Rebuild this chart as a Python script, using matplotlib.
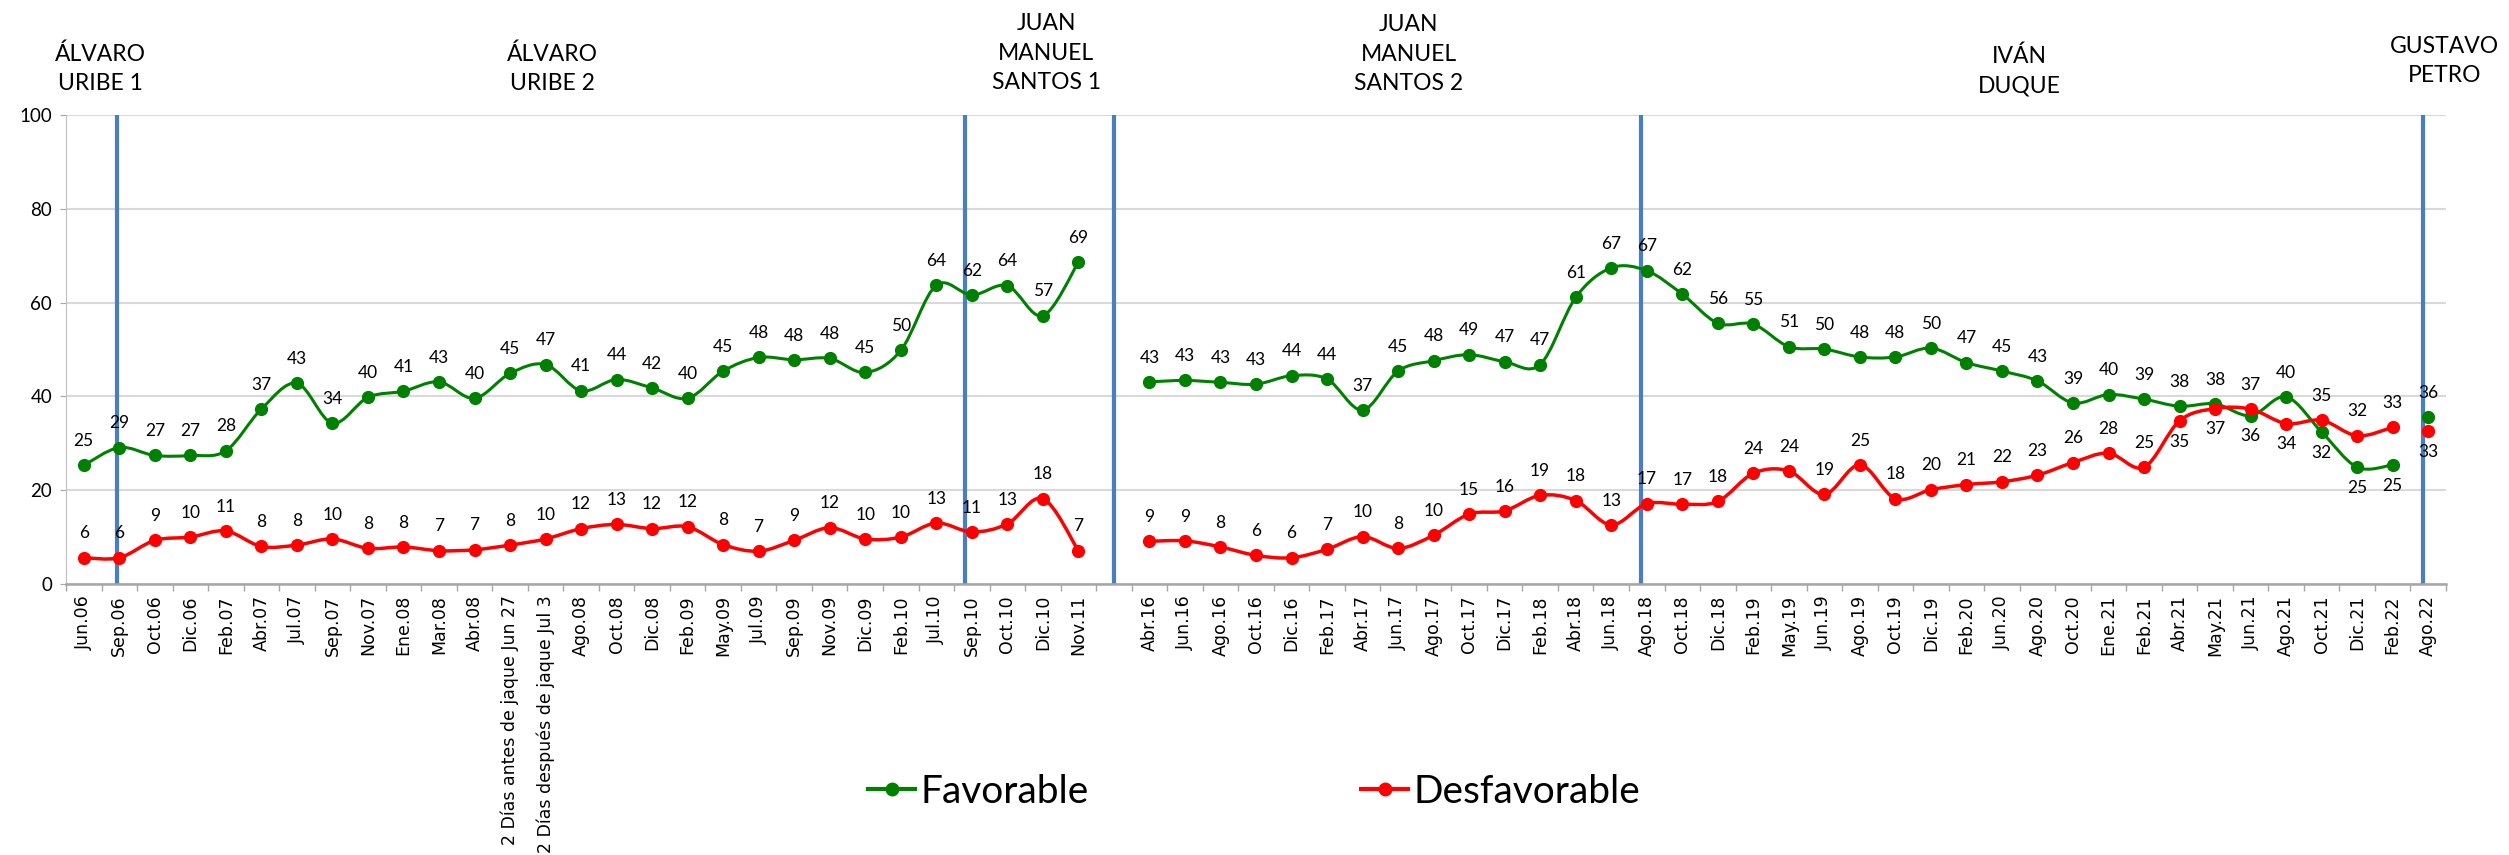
import numpy as np
import matplotlib.pyplot as plt
from matplotlib.path import Path
from matplotlib.patches import PathPatch
from matplotlib.lines import Line2D
from matplotlib.transforms import blended_transform_factory

LABEL_FONT = ['Lato', 'DejaVu Sans']

CATEGORIES = [
    'Jun.06', 'Sep.06', 'Oct.06', 'Dic.06', 'Feb.07', 'Abr.07', 'Jul.07', 'Sep.07',
    'Nov.07', 'Ene.08', 'Mar.08', 'Abr.08', '2 Días antes de jaque Jun 27',
    '2 Días después de jaque Jul 3', 'Ago.08', 'Oct.08', 'Dic.08', 'Feb.09', 'May.09',
    'Jul.09', 'Sep.09', 'Nov.09', 'Dic.09', 'Feb.10', 'Jul.10', 'Sep.10', 'Oct.10',
    'Dic.10', 'Nov.11', '',
    'Abr.16', 'Jun.16', 'Ago.16', 'Oct.16', 'Dic.16', 'Feb.17', 'Abr.17', 'Jun.17',
    'Ago.17', 'Oct.17', 'Dic.17', 'Feb.18', 'Abr.18', 'Jun.18', 'Ago.18', 'Oct.18',
    'Dic.18', 'Feb.19', 'May.19', 'Jun.19', 'Ago.19', 'Oct.19', 'Dic.19', 'Feb.20',
    'Jun.20', 'Ago.20', 'Oct.20', 'Ene.21', 'Feb.21', 'Abr.21', 'May.21', 'Jun.21',
    'Ago.21', 'Oct.21', 'Dic.21', 'Feb.22', 'Ago.22',
]

FAVORABLE = [
    25.3, 29.1, 27.4, 27.4, 28.4, 37.3, 42.8, 34.3, 39.8, 41.1, 43.1, 39.6, 44.9,
    46.8, 41.2, 43.6, 41.8, 39.6, 45.4, 48.3, 47.8, 48.1, 45.1, 49.8, 63.7, 61.6,
    63.6, 57.2, 68.6, np.nan,
    43.1, 43.4, 43.0, 42.6, 44.4, 43.7, 37.1, 45.4, 47.6, 48.9, 47.4, 46.8, 61.1,
    67.4, 66.8, 61.8, 55.6, 55.4, 50.6, 50.1, 48.4, 48.4, 50.3, 47.2, 45.4, 43.3,
    38.6, 40.4, 39.4, 37.9, 38.4, 35.9, 39.9, 32.4, 24.9, 25.4, 35.6,
]

DESFAVORABLE = [
    5.6, 5.6, 9.3, 10.0, 11.3, 8.0, 8.3, 9.6, 7.6, 7.9, 7.1, 7.3, 8.3, 9.6, 11.8,
    12.7, 11.8, 12.2, 8.4, 7.0, 9.3, 12.0, 9.6, 10.0, 13.0, 11.1, 12.8, 18.2, 7.1,
    np.nan,
    9.1, 9.2, 7.9, 6.1, 5.6, 7.4, 10.1, 7.6, 10.4, 14.9, 15.6, 18.9, 17.8, 12.6,
    17.1, 17.0, 17.6, 23.6, 24.1, 19.1, 25.4, 18.2, 20.1, 21.2, 21.8, 23.2, 25.9,
    27.9, 24.9, 34.8, 37.4, 37.3, 34.2, 34.9, 31.6, 33.4, 32.6,
]

# labels drawn under the point instead of above
FAV_BELOW = ['Jun.21', 'Oct.21', 'Dic.21', 'Feb.22']
DESF_BELOW = ['Abr.21', 'May.21', 'Ago.21', 'Ago.22']

PERIODS = ['ÁLVARO\nURIBE 1', 'ÁLVARO\nURIBE 2', 'JUAN\nMANUEL\nSANTOS 1',
           'JUAN\nMANUEL\nSANTOS 2', 'IVÁN\nDUQUE', 'GUSTAVO\nPETRO']
PERIOD_X = [0.46, 13.2, 27.1, 37.3, 54.5, 66.45]
PERIOD_Y = [1.053, 1.053, 1.055, 1.053, 1.049, 1.07]
DIVIDERS = [0.93, 24.8, 29, 43.85, 65.85]

# continuous runs of the lines (index ranges)
RUNS = [(0, 29), (30, 66), (66, 67)]

GREEN = '#008000'
RED = '#FF0000'
BLUE = '#4A7EC2'


def smooth_path(xs, ys, t=1 / 6):
    pts = np.column_stack([xs, ys])
    n = len(pts)
    verts = [pts[0]]
    codes = [Path.MOVETO]
    for i in range(n - 1):
        p0 = pts[i - 1] if i > 0 else pts[i]
        p1 = pts[i]
        p2 = pts[i + 1]
        p3 = pts[i + 2] if i + 2 < n else pts[i + 1]
        verts += [p1 + (p2 - p0) * t, p2 - (p3 - p1) * t, p2]
        codes += [Path.CURVE4] * 3
    return Path(verts, codes)


def draw_series(ax, values, color, lw, below):
    x = np.arange(len(values))
    y = np.array(values, dtype=float)
    for a, b in RUNS:
        if b - a > 1:
            ax.add_patch(PathPatch(smooth_path(x[a:b], y[a:b]), facecolor='none',
                                   edgecolor=color, lw=lw, zorder=3,
                                   capstyle='round', joinstyle='round'))
    ax.plot(x, y, 'o', color=color, ms=8.5, ls='none', zorder=4)
    for xi, yi, cat in zip(x, y, CATEGORIES):
        if np.isnan(yi):
            continue
        dy = -15 if cat in below else 17.5
        ax.annotate(f'{yi:.0f}', (xi, yi), xytext=(0, dy), textcoords='offset points',
                    ha='center', va='center', fontsize=12.5, family=LABEL_FONT, zorder=5)


fig = plt.figure(figsize=(25.09, 8.55), dpi=100)
ax = fig.add_axes([66 / 2509, 271 / 855, 2380 / 2509, 469 / 855])

ax.set_xlim(-0.5, len(CATEGORIES) - 0.5)
ax.set_ylim(0, 100)
ax.set_yticks(range(0, 101, 20))
ax.yaxis.grid(True, color='#D9D9D9', lw=1.5, zorder=0)
ax.set_axisbelow(True)
for side in ['top', 'right']:
    ax.spines[side].set_visible(False)
ax.spines['left'].set_color('#BFBFBF')
ax.spines['bottom'].set_color('#A6A6A6')
ax.spines['bottom'].set_linewidth(1.8)

ax.tick_params(axis='y', length=4, color='#A6A6A6', pad=6, labelsize=13.5)
for lab in ax.get_yticklabels():
    lab.set_family(LABEL_FONT)

ax.set_xticks(range(len(CATEGORIES)))
ax.set_xticklabels(CATEGORIES, rotation=90, fontsize=12.5, va='top')
ax.set_xticks(np.arange(-0.5, len(CATEGORIES)), minor=True)
ax.tick_params(axis='x', which='major', length=0, pad=8)
ax.tick_params(axis='x', which='minor', length=5, color='#A6A6A6', width=1)

for d in DIVIDERS:
    ax.axvline(d, color=BLUE, lw=3, zorder=2)

draw_series(ax, FAVORABLE, GREEN, 2.2, FAV_BELOW)
draw_series(ax, DESFAVORABLE, RED, 2.5, DESF_BELOW)

trans = blended_transform_factory(ax.transData, ax.transAxes)
for name, px, py in zip(PERIODS, PERIOD_X, PERIOD_Y):
    ax.text(px, py, name, transform=trans, ha='center', va='baseline',
            fontsize=16.5, family=LABEL_FONT, linespacing=1.5)

handles = [
    Line2D([], [], color=GREEN, lw=3, marker='o', ms=9),
    Line2D([], [], color=RED, lw=3, marker='o', ms=9),
]
fig.legend(handles, ['Favorable', 'Desfavorable'], loc='center',
           bbox_to_anchor=(0.5, 0.074), ncol=2, frameon=False,
           prop={'family': LABEL_FONT, 'size': 28}, handlelength=1.2,
           handletextpad=0.15, columnspacing=7)

fig.savefig('out.png', dpi=100)
